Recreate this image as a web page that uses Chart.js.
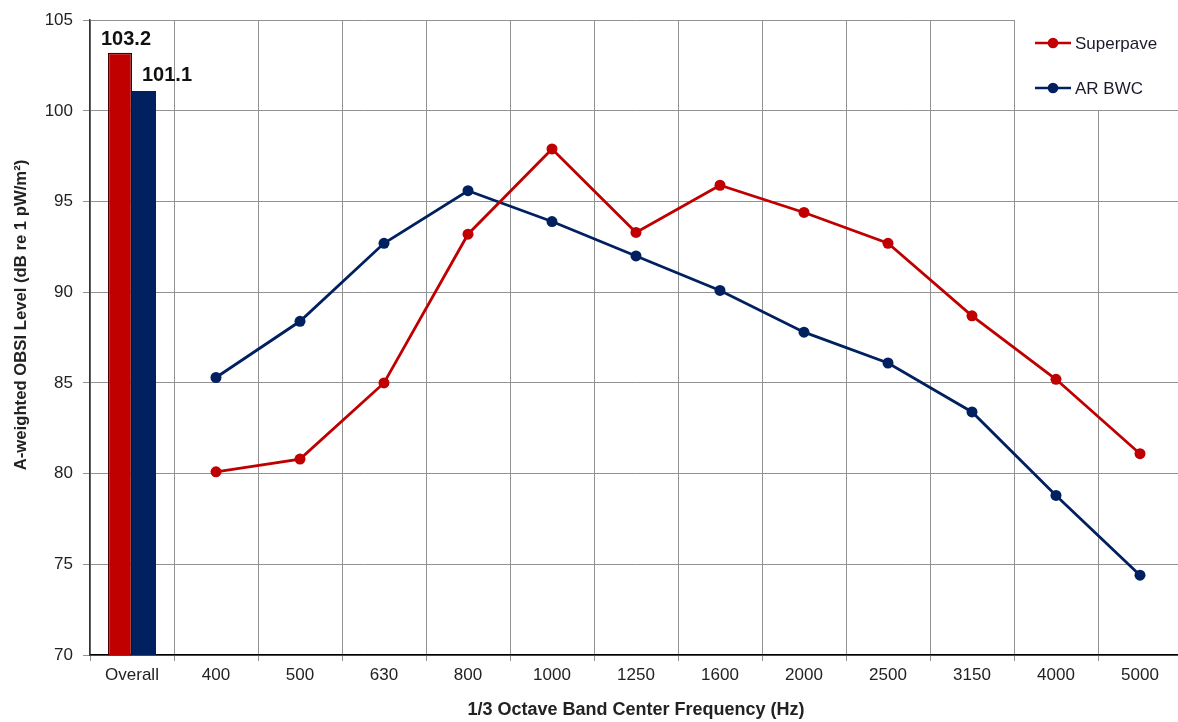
<!DOCTYPE html>
<html>
<head>
<meta charset="utf-8">
<script src="https://cdn.jsdelivr.net/npm/chart.js@4/dist/chart.umd.min.js"></script>
<style>
  html, body { margin: 0; padding: 0; background: #fff; }
  #wrap { width: 1178px; height: 722px; overflow: hidden; position: relative; }
  canvas { display: block; }
</style>
</head>
<body>
<div id="wrap"><canvas id="c" width="1190" height="722"></canvas></div>
<script>
// ---- data ----
const categories = ["Overall", "400", "500", "630", "800", "1000", "1250", "1600", "2000", "2500", "3150", "4000", "5000"];
const seriesNames = ["Superpave", "AR BWC"];
const overallSuperpave = 103.2;
const overallARBWC = 101.1;
const superpave = [80.1, 80.8, 85.0, 93.2, 97.9, 93.3, 95.9, 94.4, 92.7, 88.7, 85.2, 81.1];
const arbwc = [85.3, 88.4, 92.7, 95.6, 93.9, 92.0, 90.1, 87.8, 86.1, 83.4, 78.8, 74.4];
const yTicks = [70, 75, 80, 85, 90, 95, 100, 105];
const xTitle = "1/3 Octave Band Center Frequency (Hz)";
const yTitle = "A-weighted OBSI Level (dB re 1 pW/m\u00B2)";

const RED = "#C00000";
const NAVY = "#002060";
const FONT = "'Liberation Sans', Arial, sans-serif";

const lineSp = [null].concat(superpave);
const lineAr = [null].concat(arbwc);

const labelsPlugin = {
  id: "extras",
  afterDatasetsDraw(chart) {
    const ctx = chart.ctx;
    // bar value labels
    const m0 = chart.getDatasetMeta(0).data[0];
    const m1 = chart.getDatasetMeta(1).data[0];
    ctx.save();
    ctx.fillStyle = "#111";
    ctx.font = "bold 20px " + FONT;
    ctx.textBaseline = "alphabetic";
    ctx.textAlign = "center";
    ctx.fillText(overallSuperpave.toFixed(1), m0.x + 6, m0.y - 8);
    ctx.textAlign = "left";
    ctx.fillText(overallARBWC.toFixed(1), m1.x - 2, m1.y - 10);
    ctx.restore();

    // legend box
    ctx.save();
    ctx.fillStyle = "#fff";
    ctx.fillRect(1015, 19, 180, 91);
    const items = [
      { name: seriesNames[0], color: RED, y: 43 },
      { name: seriesNames[1], color: NAVY, y: 88 }
    ];
    items.forEach(it => {
      ctx.strokeStyle = it.color;
      ctx.lineWidth = 2.6;
      ctx.beginPath();
      ctx.moveTo(1035, it.y);
      ctx.lineTo(1071, it.y);
      ctx.stroke();
      ctx.fillStyle = it.color;
      ctx.beginPath();
      ctx.arc(1053, it.y, 5.3, 0, Math.PI * 2);
      ctx.fill();
      ctx.fillStyle = "#1a1a2a";
      ctx.font = "17px " + FONT;
      ctx.textAlign = "left";
      ctx.textBaseline = "middle";
      ctx.fillText(it.name, 1075, it.y + 1);
    });
    ctx.restore();
  },
  afterDraw(chart) {
    const ctx = chart.ctx;
    ctx.save();
    ctx.fillStyle = "#222";
    ctx.font = "bold 16.7px " + FONT;
    ctx.textAlign = "center";
    ctx.textBaseline = "middle";
    ctx.translate(21, 315);
    ctx.rotate(-Math.PI / 2);
    ctx.fillText(yTitle, 0, 0);
    ctx.restore();
  }
};

new Chart(document.getElementById("c"), {
  type: "bar",
  data: {
    labels: categories,
    datasets: [
      {
        type: "bar", label: seriesNames[0], data: [overallSuperpave],
        backgroundColor: RED, borderColor: "#4a0000", borderWidth: 1.5,
        categoryPercentage: 0.5714, barPercentage: 1.0, order: 2
      },
      {
        type: "bar", label: seriesNames[1], data: [overallARBWC],
        backgroundColor: NAVY, borderColor: NAVY, borderWidth: 0,
        categoryPercentage: 0.5714, barPercentage: 1.0, order: 2
      },
      {
        type: "line", label: seriesNames[0], data: lineSp,
        borderColor: RED, backgroundColor: RED, borderWidth: 2.8,
        pointRadius: 5.5, pointBackgroundColor: RED, pointBorderWidth: 0,
        tension: 0, spanGaps: false, order: 1
      },
      {
        type: "line", label: seriesNames[1], data: lineAr,
        borderColor: NAVY, backgroundColor: NAVY, borderWidth: 2.8,
        pointRadius: 5.5, pointBackgroundColor: NAVY, pointBorderWidth: 0,
        tension: 0, spanGaps: false, order: 1
      }
    ]
  },
  options: {
    responsive: false,
    animation: false,
    devicePixelRatio: 1,
    layout: { padding: { top: 20, right: 8, left: 0, bottom: 0 } },
    plugins: { legend: { display: false }, tooltip: { enabled: false } },
    scales: {
      x: {
        type: "category",
        offset: true,
        grid: { offset: true, color: "#929292", lineWidth: 1, tickLength: 6, tickColor: "#929292" },
        border: { color: "#000", width: 1.5 },
        ticks: { font: { family: FONT, size: 17 }, color: "#222", padding: 4, maxRotation: 0, autoSkip: false },
        title: { display: true, text: xTitle, font: { family: FONT, size: 18, weight: "bold" }, color: "#222", padding: { top: 0, bottom: 1 } },
        afterFit(scale) { scale.height = 67; }
      },
      y: {
        min: 70, max: 105,
        afterBuildTicks(scale) { scale.ticks = yTicks.map(v => ({ value: v })); },
        grid: { color: "#929292", lineWidth: 1, tickLength: 7, tickColor: "#929292" },
        border: { color: "#333", width: 1.5 },
        ticks: { font: { family: FONT, size: 17 }, color: "#222", padding: 10 },
        title: { display: false },
        afterFit(scale) { scale.width = 90; }
      }
    }
  },
  plugins: [labelsPlugin]
});
</script>
</body>
</html>
